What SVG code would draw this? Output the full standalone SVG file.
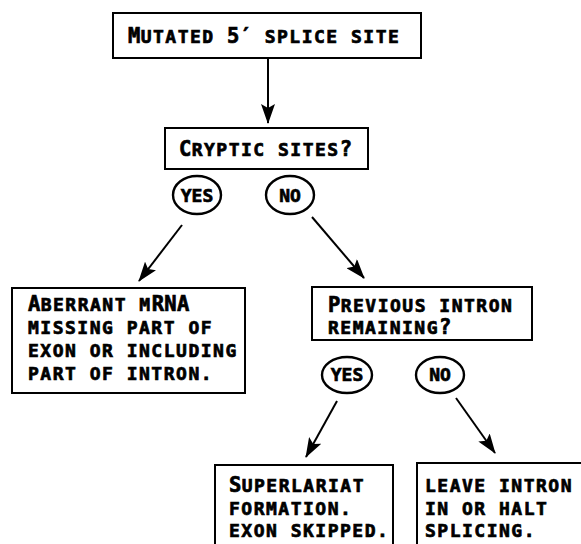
<svg xmlns="http://www.w3.org/2000/svg" width="581" height="544" viewBox="0 0 581 544">
<style>
.box{fill:#fff;stroke:#000;stroke-width:2}
.ov{fill:#fff;stroke:#000;stroke-width:2.4}
.t{font-family:"DejaVu Sans Mono","Liberation Mono",monospace;font-weight:bold;font-size:18px;letter-spacing:1.5px;fill:#000;stroke:#000;stroke-width:0.7px}
.c{font-size:20.5px;letter-spacing:0.3px}
.m{text-transform:uppercase}
.lbl{font-family:"DejaVu Sans Mono","Liberation Mono",monospace;font-weight:bold;font-size:18px;fill:#000;stroke:#000;stroke-width:0.7px;text-anchor:middle}
.ln{stroke:#000;stroke-width:2;fill:none;marker-end:url(#ah)}
</style>
<defs>
<marker id="ah" markerUnits="userSpaceOnUse" markerWidth="20" markerHeight="14" viewBox="0 0 20 14" refX="19" refY="7" orient="auto">
<path d="M0,0 L20,7 L0,14 L4,7 Z" fill="#000"/>
</marker>
</defs>
<rect width="581" height="544" fill="#fff"/>
<g id="connectors">
<line class="ln" x1="268" y1="59" x2="268" y2="123"/>
<line class="ln" x1="182" y1="225" x2="139" y2="281"/>
<line class="ln" x1="312" y1="217" x2="364" y2="278"/>
<line class="ln" x1="337" y1="401" x2="306" y2="457"/>
<line class="ln" x1="456" y1="398" x2="495" y2="453"/>
</g>
<g id="n-mutated">
<rect class="box" x="113" y="13" width="308" height="45"/>
<text class="t" x="128" y="43"><tspan class="c">M</tspan>UTATED <tspan class="c">5′</tspan> SPLICE SITE</text>
</g>
<g id="n-cryptic">
<rect class="box" x="165" y="128" width="203" height="41"/>
<text class="t" x="179" y="156"><tspan class="c">C</tspan>RYPTIC SITES<tspan class="c">?</tspan></text>
</g>
<g id="n-yes1">
<ellipse class="ov" cx="197" cy="195" rx="24" ry="19"/>
<text class="lbl" x="197" y="202">YES</text>
</g>
<g id="n-no1">
<ellipse class="ov" cx="290" cy="195" rx="24" ry="19"/>
<text class="lbl" x="290" y="202">NO</text>
</g>
<g id="n-aberrant">
<rect class="box" x="12" y="288" width="233" height="105"/>
<text class="t" x="28" y="311"><tspan class="c">A</tspan>BERRANT <tspan class="m">m</tspan><tspan class="c">RNA</tspan></text>
<text class="t" x="28" y="334">MISSING PART OF</text>
<text class="t" x="28" y="357">EXON OR INCLUDING</text>
<text class="t" x="28" y="380">PART OF INTRON.</text>
</g>
<g id="n-previous">
<rect class="box" x="312" y="287" width="220" height="53"/>
<text class="t" x="328" y="312"><tspan class="c">P</tspan>REVIOUS INTRON</text>
<text class="t" x="328" y="334">REMAINING<tspan class="c">?</tspan></text>
</g>
<g id="n-yes2">
<ellipse class="ov" cx="347" cy="375" rx="25" ry="18"/>
<text class="lbl" x="347" y="381">YES</text>
</g>
<g id="n-no2">
<ellipse class="ov" cx="440" cy="375" rx="24" ry="18"/>
<text class="lbl" x="440" y="381">NO</text>
</g>
<g id="n-superlariat">
<rect class="box" x="215" y="465" width="178" height="100"/>
<text class="t" x="229" y="492"><tspan class="c">S</tspan>UPERLARIAT</text>
<text class="t" x="229" y="515">FORMATION.</text>
<text class="t" x="229" y="537">EXON SKIPPED.</text>
</g>
<g id="n-leave">
<rect class="box" x="417" y="463" width="180" height="100"/>
<text class="t" x="425" y="492">LEAVE INTRON</text>
<text class="t" x="425" y="515">IN OR HALT</text>
<text class="t" x="425" y="537">SPLICING.</text>
</g>
</svg>
